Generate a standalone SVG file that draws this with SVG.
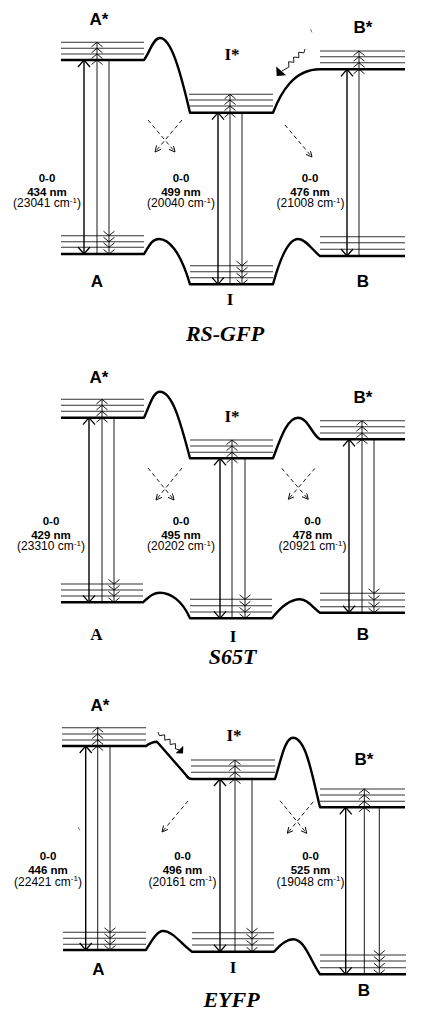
<svg xmlns="http://www.w3.org/2000/svg" xmlns:xlink="http://www.w3.org/1999/xlink" width="421" height="1018" viewBox="0 0 421 1018">
<style>
.bg{fill:#fff}
.surf{fill:none;stroke:#000;stroke-width:2.4;stroke-linejoin:round}
.lvl{stroke:#333;stroke-width:1.1}
.main{stroke:#000;stroke-width:1.4}
.thin{stroke:#000;stroke-width:0.9}
.head{fill:none;stroke:#000;stroke-width:1.3}
.chev{fill:none;stroke:#000;stroke-width:0.9}
.dash{stroke:#000;stroke-width:0.9;stroke-dasharray:4 3;fill:none}
.wave{fill:none;stroke:#000;stroke-width:0.9;stroke-linejoin:round}
.tick{stroke:#555;stroke-width:0.8}
.st{font-family:"Liberation Sans",Arial,sans-serif;font-weight:bold;font-size:17px;text-anchor:middle}
.sts{font-family:"Liberation Serif","Times New Roman",serif;font-weight:bold;font-size:17px;text-anchor:middle}
.nm{font-family:"Liberation Sans",Arial,sans-serif;font-weight:bold;font-size:11.5px;text-anchor:middle}
.cm{font-family:"Liberation Sans",Arial,sans-serif;font-size:12px;text-anchor:middle}
.sup{font-size:8px}
.title{font-family:"Liberation Serif","Times New Roman",serif;font-weight:bold;font-style:italic;font-size:22px;text-anchor:middle}
</style>
<defs>
<polyline id="bigUp" class="head" points="-6,7 0,0 6,7"/>
<polyline id="bigDn" class="head" points="-6,-7 0,0 6,-7"/>
<polyline id="chUp" class="chev" points="-5.5,4.5 0,0 5.5,4.5"/>
<polyline id="chDn" class="chev" points="-5.5,-4.5 0,0 5.5,-4.5"/>
<marker id="dh" markerUnits="userSpaceOnUse" markerWidth="8" markerHeight="8" refX="6" refY="3" orient="auto">
<path d="M0,0 L6,3 L0,6" fill="none" stroke="#000" stroke-width="0.9"/>
</marker>
</defs>
<rect class="bg" x="0" y="0" width="421" height="1018"/>

<!-- ================= PANEL 1 : RS-GFP ================= -->
<g id="p1-surfaces">
<path class="surf" d="M61,60 H144 C150,52 153,38 160,38 C171,38 180,70 190,112.7 H273 C281,92 294,69.3 320,69.3 H405"/>
<path class="surf" d="M61,254 H144 C149,246 152,239 159,239 C168,239 180,250 190,284.3 H273 C281,255 289,239 298,239 C306,239 312,250 320,256 H405"/>
</g>
<g id="p1-Astar">
<line class="lvl" x1="61" y1="42.3" x2="144" y2="42.3"/><line class="lvl" x1="61" y1="48.3" x2="144" y2="48.3"/><line class="lvl" x1="61" y1="54" x2="144" y2="54"/>
<text class="st" x="99" y="25">A*</text>
</g>
<g id="p1-Istar">
<line class="lvl" x1="189" y1="94.3" x2="273" y2="94.3"/><line class="lvl" x1="189" y1="100" x2="273" y2="100"/><line class="lvl" x1="189" y1="106" x2="273" y2="106"/>
<text class="sts" x="232" y="60">I*</text>
</g>
<g id="p1-Bstar">
<line class="lvl" x1="320" y1="51" x2="405" y2="51"/><line class="lvl" x1="320" y1="56.7" x2="405" y2="56.7"/><line class="lvl" x1="320" y1="62.7" x2="405" y2="62.7"/>
<text class="st" x="363" y="33">B*</text>
</g>
<g id="p1-A">
<line class="lvl" x1="61" y1="235.7" x2="144" y2="235.7"/><line class="lvl" x1="61" y1="241.7" x2="144" y2="241.7"/><line class="lvl" x1="61" y1="247.3" x2="144" y2="247.3"/>
<text class="st" x="97" y="287">A</text>
</g>
<g id="p1-I">
<line class="lvl" x1="190" y1="265.7" x2="273" y2="265.7"/><line class="lvl" x1="190" y1="271.7" x2="273" y2="271.7"/><line class="lvl" x1="190" y1="277.7" x2="273" y2="277.7"/>
<text class="sts" x="230" y="305">I</text>
</g>
<g id="p1-B">
<line class="lvl" x1="320" y1="236.7" x2="405" y2="236.7"/><line class="lvl" x1="320" y1="242.7" x2="405" y2="242.7"/><line class="lvl" x1="320" y1="249.3" x2="405" y2="249.3"/>
<text class="st" x="363" y="287">B</text>
</g>
<g id="p1-connectors">
<line class="main" x1="84" y1="60" x2="84" y2="254"/><use xlink:href="#bigUp" x="84" y="60"/><use xlink:href="#bigDn" x="84" y="254"/>
<line class="thin" x1="97" y1="42.3" x2="97" y2="254"/>
<use xlink:href="#chUp" x="97" y="42.3"/><use xlink:href="#chUp" x="97" y="48.3"/><use xlink:href="#chUp" x="97" y="54"/><use xlink:href="#chUp" x="97" y="60"/>
<line class="thin" x1="109" y1="60" x2="109" y2="254"/>
<use xlink:href="#chDn" x="109" y="235.7"/><use xlink:href="#chDn" x="109" y="241.7"/><use xlink:href="#chDn" x="109" y="247.3"/><use xlink:href="#chDn" x="109" y="254"/>
<line class="main" x1="218" y1="112.7" x2="218" y2="284.3"/><use xlink:href="#bigUp" x="218" y="112.7"/><use xlink:href="#bigDn" x="218" y="284.3"/>
<line class="thin" x1="230" y1="94.3" x2="230" y2="284.3"/>
<use xlink:href="#chUp" x="230" y="94.3"/><use xlink:href="#chUp" x="230" y="100"/><use xlink:href="#chUp" x="230" y="106"/><use xlink:href="#chUp" x="230" y="112.7"/>
<line class="thin" x1="242" y1="112.7" x2="242" y2="284.3"/>
<use xlink:href="#chDn" x="242" y="265.7"/><use xlink:href="#chDn" x="242" y="271.7"/><use xlink:href="#chDn" x="242" y="277.7"/><use xlink:href="#chDn" x="242" y="284.3"/>
<line class="main" x1="347" y1="69.3" x2="347" y2="256"/><use xlink:href="#bigUp" x="347" y="69.3"/><use xlink:href="#bigDn" x="347" y="256"/>
<line class="thin" x1="359" y1="51" x2="359" y2="256"/>
<use xlink:href="#chUp" x="359" y="51"/><use xlink:href="#chUp" x="359" y="56.7"/><use xlink:href="#chUp" x="359" y="62.7"/><use xlink:href="#chUp" x="359" y="69.3"/>
<line class="dash" x1="148" y1="120" x2="175" y2="152" marker-end="url(#dh)"/>
<line class="dash" x1="182" y1="120" x2="155" y2="152" marker-end="url(#dh)"/>
<line class="dash" x1="285" y1="125" x2="312" y2="157" marker-end="url(#dh)"/>
<polyline class="wave" points="305,49 303.9,52.8 298.6,52.3 298.9,57.5 293.6,57.1 293.9,62.3 288.6,61.8 288.9,67 282,71"/>
<polygon points="276.7,76 276.2,66.5 286.2,75.2" fill="#000"/>
<line class="tick" x1="310.5" y1="29" x2="312" y2="32.5"/>
</g>
<g id="p1-labels">
<text class="nm" x="47" y="182">0-0</text><text class="nm" x="47" y="195.5">434 nm</text>
<text class="cm" x="47" y="207">(23041 cm<tspan class="sup" dy="-4.5">-1</tspan><tspan dy="4.5">)</tspan></text>
<text class="nm" x="181" y="182">0-0</text><text class="nm" x="181" y="195.5">499 nm</text>
<text class="cm" x="181" y="207">(20040 cm<tspan class="sup" dy="-4.5">-1</tspan><tspan dy="4.5">)</tspan></text>
<text class="nm" x="310" y="182">0-0</text><text class="nm" x="310" y="195.5">476 nm</text>
<text class="cm" x="310.5" y="207">(21008 cm<tspan class="sup" dy="-4.5">-1</tspan><tspan dy="4.5">)</tspan></text>
<text class="title" x="225" y="341">RS-GFP</text>
</g>

<!-- ================= PANEL 2 : S65T ================= -->
<g id="p2-surfaces">
<path class="surf" d="M61,417.7 H144 C150,405 153,391.7 160,391.7 C172,391.7 180,420 190,458.3 H273 C280,440 287,417.7 298,417.7 C308,417.7 312,435 320,439.3 H405"/>
<path class="surf" d="M61,602.3 H143 C149,597 153,592.7 160,592.7 C170,592.7 182,600 190,618.3 H272 C280,608 290,599.3 300,599.3 C308,599.3 313,608 320,612.7 H405"/>
</g>
<g id="p2-Astar">
<line class="lvl" x1="61" y1="399.3" x2="144" y2="399.3"/><line class="lvl" x1="61" y1="405.3" x2="144" y2="405.3"/><line class="lvl" x1="61" y1="411.3" x2="144" y2="411.3"/>
<text class="st" x="99" y="383">A*</text>
</g>
<g id="p2-Istar">
<line class="lvl" x1="190" y1="440" x2="273" y2="440"/><line class="lvl" x1="190" y1="446" x2="273" y2="446"/><line class="lvl" x1="190" y1="452.3" x2="273" y2="452.3"/>
<text class="sts" x="232" y="422">I*</text>
</g>
<g id="p2-Bstar">
<line class="lvl" x1="320" y1="420.7" x2="405" y2="420.7"/><line class="lvl" x1="320" y1="426.7" x2="405" y2="426.7"/><line class="lvl" x1="320" y1="433" x2="405" y2="433"/>
<text class="st" x="363" y="403">B*</text>
</g>
<g id="p2-A">
<line class="lvl" x1="61" y1="584" x2="143" y2="584"/><line class="lvl" x1="61" y1="590" x2="143" y2="590"/><line class="lvl" x1="61" y1="596" x2="143" y2="596"/>
<text class="sts" x="96.5" y="640">A</text>
</g>
<g id="p2-I">
<line class="lvl" x1="190" y1="599.3" x2="272" y2="599.3"/><line class="lvl" x1="190" y1="605.7" x2="272" y2="605.7"/><line class="lvl" x1="190" y1="612" x2="272" y2="612"/>
<text class="sts" x="233" y="642">I</text>
</g>
<g id="p2-B">
<line class="lvl" x1="320" y1="593.3" x2="405" y2="593.3"/><line class="lvl" x1="320" y1="600" x2="405" y2="600"/><line class="lvl" x1="320" y1="606.7" x2="405" y2="606.7"/>
<text class="st" x="363" y="640">B</text>
</g>
<g id="p2-connectors">
<line class="main" x1="89" y1="417.7" x2="89" y2="602.3"/><use xlink:href="#bigUp" x="89" y="417.7"/><use xlink:href="#bigDn" x="89" y="602.3"/>
<line class="thin" x1="102" y1="399.3" x2="102" y2="602.3"/>
<use xlink:href="#chUp" x="102" y="399.3"/><use xlink:href="#chUp" x="102" y="405.3"/><use xlink:href="#chUp" x="102" y="411.3"/><use xlink:href="#chUp" x="102" y="417.7"/>
<line class="thin" x1="114" y1="417.7" x2="114" y2="602.3"/>
<use xlink:href="#chDn" x="114" y="584"/><use xlink:href="#chDn" x="114" y="590"/><use xlink:href="#chDn" x="114" y="596"/><use xlink:href="#chDn" x="114" y="602.3"/>
<line class="main" x1="220" y1="458.3" x2="220" y2="618.3"/><use xlink:href="#bigUp" x="220" y="458.3"/><use xlink:href="#bigDn" x="220" y="618.3"/>
<line class="thin" x1="232" y1="440" x2="232" y2="618.3"/>
<use xlink:href="#chUp" x="232" y="440"/><use xlink:href="#chUp" x="232" y="446"/><use xlink:href="#chUp" x="232" y="452.3"/><use xlink:href="#chUp" x="232" y="458.3"/>
<line class="thin" x1="245" y1="458.3" x2="245" y2="618.3"/>
<use xlink:href="#chDn" x="245" y="599.3"/><use xlink:href="#chDn" x="245" y="605.7"/><use xlink:href="#chDn" x="245" y="612"/><use xlink:href="#chDn" x="245" y="618.3"/>
<line class="main" x1="349" y1="439.3" x2="349" y2="612.7"/><use xlink:href="#bigUp" x="349" y="439.3"/><use xlink:href="#bigDn" x="349" y="612.7"/>
<line class="thin" x1="362" y1="420.7" x2="362" y2="612.7"/>
<use xlink:href="#chUp" x="362" y="420.7"/><use xlink:href="#chUp" x="362" y="426.7"/><use xlink:href="#chUp" x="362" y="433"/><use xlink:href="#chUp" x="362" y="439.3"/>
<line class="thin" x1="374" y1="439.3" x2="374" y2="612.7"/>
<use xlink:href="#chDn" x="374" y="593.3"/><use xlink:href="#chDn" x="374" y="600"/><use xlink:href="#chDn" x="374" y="606.7"/><use xlink:href="#chDn" x="374" y="612.7"/>
<line class="dash" x1="148" y1="468" x2="174" y2="500" marker-end="url(#dh)"/>
<line class="dash" x1="182" y1="468" x2="156" y2="500" marker-end="url(#dh)"/>
<line class="dash" x1="281.7" y1="468.3" x2="308.3" y2="499.3" marker-end="url(#dh)"/>
<line class="dash" x1="315" y1="468.3" x2="288.3" y2="499.3" marker-end="url(#dh)"/>
</g>
<g id="p2-labels">
<text class="nm" x="51" y="525">0-0</text><text class="nm" x="51" y="538.5">429 nm</text>
<text class="cm" x="51" y="550">(23310 cm<tspan class="sup" dy="-4.5">-1</tspan><tspan dy="4.5">)</tspan></text>
<text class="nm" x="181" y="525">0-0</text><text class="nm" x="181" y="538.5">495 nm</text>
<text class="cm" x="181" y="550">(20202 cm<tspan class="sup" dy="-4.5">-1</tspan><tspan dy="4.5">)</tspan></text>
<text class="nm" x="312.5" y="525">0-0</text><text class="nm" x="312.5" y="538.5">478 nm</text>
<text class="cm" x="312.5" y="550">(20921 cm<tspan class="sup" dy="-4.5">-1</tspan><tspan dy="4.5">)</tspan></text>
<text class="title" x="232.5" y="664">S65T</text>
</g>

<!-- ================= PANEL 3 : EYFP ================= -->
<g id="p3-surfaces">
<path class="surf" d="M62,746 H146 C150,743 153,741.7 157,741.7 L186,775 Q188.5,779 192,779 H275 C281,760 285,737.7 293,737.7 C306,737.7 312,775 320,807.3 H405"/>
<path class="surf" d="M63,950 H146 C152,940 157,931 163,931 C173,931 182,945 192,951.7 H274 C280,945 287,939.3 293,939.3 C305,939.3 310,960 320,974.3 H406"/>
</g>
<g id="p3-Astar">
<line class="lvl" x1="62" y1="727.7" x2="146" y2="727.7"/><line class="lvl" x1="62" y1="734" x2="146" y2="734"/><line class="lvl" x1="62" y1="740" x2="146" y2="740"/>
<text class="st" x="100" y="711">A*</text>
</g>
<g id="p3-Istar">
<line class="lvl" x1="191" y1="760" x2="275" y2="760"/><line class="lvl" x1="191" y1="766" x2="275" y2="766"/><line class="lvl" x1="191" y1="772.3" x2="275" y2="772.3"/>
<text class="sts" x="234" y="741">I*</text>
</g>
<g id="p3-Bstar">
<line class="lvl" x1="320" y1="789" x2="405" y2="789"/><line class="lvl" x1="320" y1="795" x2="405" y2="795"/><line class="lvl" x1="320" y1="801.3" x2="405" y2="801.3"/>
<text class="st" x="364" y="765">B*</text>
</g>
<g id="p3-A">
<line class="lvl" x1="63" y1="932.3" x2="146" y2="932.3"/><line class="lvl" x1="63" y1="938.3" x2="146" y2="938.3"/><line class="lvl" x1="63" y1="944.3" x2="146" y2="944.3"/>
<text class="st" x="98.5" y="975">A</text>
</g>
<g id="p3-I">
<line class="lvl" x1="192" y1="932.7" x2="274" y2="932.7"/><line class="lvl" x1="192" y1="938.7" x2="274" y2="938.7"/><line class="lvl" x1="192" y1="945" x2="274" y2="945"/>
<text class="sts" x="233" y="973">I</text>
</g>
<g id="p3-B">
<line class="lvl" x1="320" y1="955" x2="406" y2="955"/><line class="lvl" x1="320" y1="961" x2="406" y2="961"/><line class="lvl" x1="320" y1="967.7" x2="406" y2="967.7"/>
<text class="st" x="364" y="996">B</text>
</g>
<g id="p3-connectors">
<line class="main" x1="85.7" y1="746" x2="85.7" y2="950"/><use xlink:href="#bigUp" x="85.7" y="746"/><use xlink:href="#bigDn" x="85.7" y="950"/>
<line class="thin" x1="97.7" y1="727.7" x2="97.7" y2="950"/>
<use xlink:href="#chUp" x="97.7" y="727.7"/><use xlink:href="#chUp" x="97.7" y="734"/><use xlink:href="#chUp" x="97.7" y="740"/><use xlink:href="#chUp" x="97.7" y="746"/>
<line class="thin" x1="110" y1="746" x2="110" y2="950"/>
<use xlink:href="#chDn" x="110" y="932.3"/><use xlink:href="#chDn" x="110" y="938.3"/><use xlink:href="#chDn" x="110" y="944.3"/><use xlink:href="#chDn" x="110" y="950"/>
<line class="main" x1="220" y1="779" x2="220" y2="951.7"/><use xlink:href="#bigUp" x="220" y="779"/><use xlink:href="#bigDn" x="220" y="951.7"/>
<line class="thin" x1="235" y1="760" x2="235" y2="951.7"/>
<use xlink:href="#chUp" x="235" y="760"/><use xlink:href="#chUp" x="235" y="766"/><use xlink:href="#chUp" x="235" y="772.3"/><use xlink:href="#chUp" x="235" y="779"/>
<line class="thin" x1="252" y1="779" x2="252" y2="951.7"/>
<use xlink:href="#chDn" x="252" y="932.7"/><use xlink:href="#chDn" x="252" y="938.7"/><use xlink:href="#chDn" x="252" y="945"/><use xlink:href="#chDn" x="252" y="951.7"/>
<line class="main" x1="345.7" y1="807.3" x2="345.7" y2="974.3"/><use xlink:href="#bigUp" x="345.7" y="807.3"/><use xlink:href="#bigDn" x="345.7" y="974.3"/>
<line class="thin" x1="364.3" y1="789" x2="364.3" y2="974.3"/>
<use xlink:href="#chUp" x="364.3" y="789"/><use xlink:href="#chUp" x="364.3" y="795"/><use xlink:href="#chUp" x="364.3" y="801.3"/><use xlink:href="#chUp" x="364.3" y="807.3"/>
<line class="thin" x1="379.3" y1="807.3" x2="379.3" y2="974.3"/>
<use xlink:href="#chDn" x="379.3" y="955"/><use xlink:href="#chDn" x="379.3" y="961"/><use xlink:href="#chDn" x="379.3" y="967.7"/><use xlink:href="#chDn" x="379.3" y="974.3"/>
<line class="dash" x1="188" y1="801" x2="162" y2="832" marker-end="url(#dh)"/>
<line class="dash" x1="280" y1="800.7" x2="306.7" y2="833.3" marker-end="url(#dh)"/>
<line class="dash" x1="313.3" y1="801.7" x2="287.3" y2="833.3" marker-end="url(#dh)"/>
<polyline class="wave" points="158,732 159.4,735.7 164.6,734.8 164.8,740.1 170,739.2 170.2,744.5 175.4,743.6 175.5,748.9 179.5,749.8"/>
<polygon points="183.3,745.8 183,753.5 175.6,753.3" fill="#000"/>
<line class="tick" x1="78" y1="827" x2="80" y2="830.5"/>
</g>
<g id="p3-labels">
<text class="nm" x="48" y="860">0-0</text><text class="nm" x="48" y="873.5">446 nm</text>
<text class="cm" x="48" y="885.5">(22421 cm<tspan class="sup" dy="-4.5">-1</tspan><tspan dy="4.5">)</tspan></text>
<text class="nm" x="182.5" y="860">0-0</text><text class="nm" x="182.5" y="873.5">496 nm</text>
<text class="cm" x="182.5" y="885.5">(20161 cm<tspan class="sup" dy="-4.5">-1</tspan><tspan dy="4.5">)</tspan></text>
<text class="nm" x="310.5" y="860">0-0</text><text class="nm" x="310.5" y="873.5">525 nm</text>
<text class="cm" x="310.5" y="885.5">(19048 cm<tspan class="sup" dy="-4.5">-1</tspan><tspan dy="4.5">)</tspan></text>
<text class="title" x="231.5" y="1007">EYFP</text>
</g>
</svg>
